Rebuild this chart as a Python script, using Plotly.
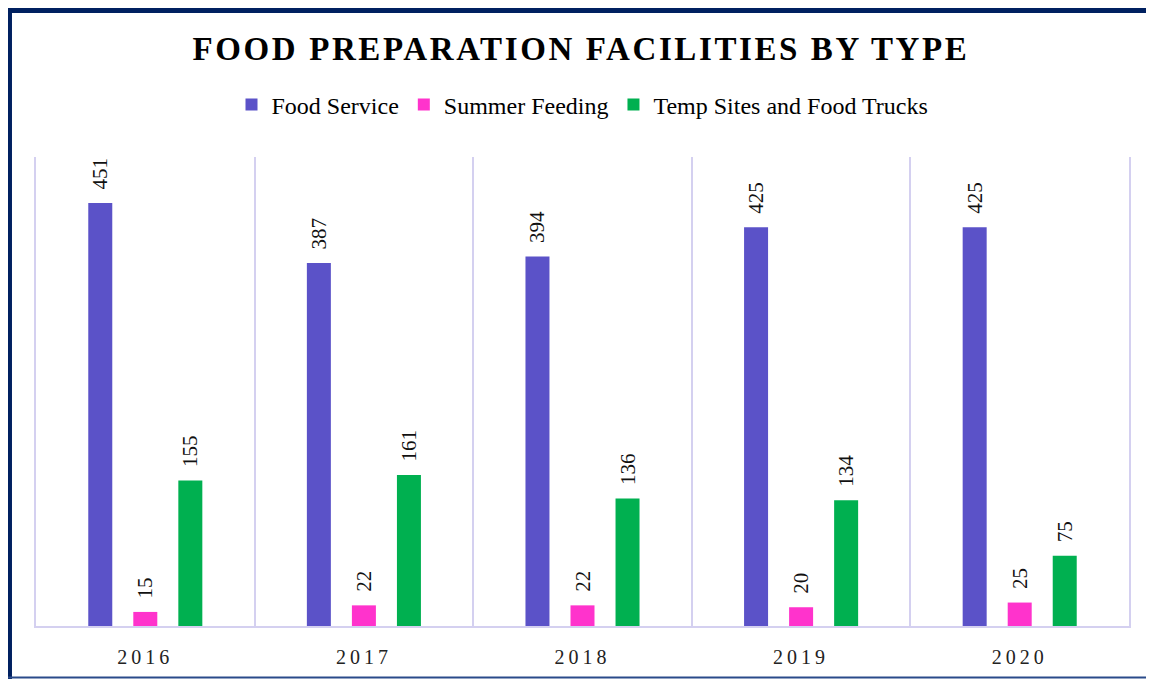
import plotly.graph_objects as go

years = ["2016", "2017", "2018", "2019", "2020"]
food_service = [451, 387, 394, 425, 425]
summer_feeding = [15, 22, 22, 20, 25]
temp_sites = [155, 161, 136, 134, 75]

series = [
    ("Food Service", food_service, "#5B52C8"),
    ("Summer Feeding", summer_feeding, "#FF33CC"),
    ("Temp Sites and Food Trucks", temp_sites, "#00B050"),
]

SERIF = "Liberation Serif, Times New Roman, serif"
GRID = "#D4D0F0"
NAVY = "#002060"

fig = go.Figure()
for name, vals, col in series:
    fig.add_trace(go.Bar(
        x=years, y=vals, name=name,
        marker=dict(color=col, line=dict(width=0)),
        text=vals, texttemplate="\u00a0\u00a0%{text}",
        textposition="outside", textangle=-90,
        constraintext="none", cliponaxis=False,
        textfont=dict(family=SERIF, size=21, color="#111111"),
    ))

# frame around the picture (top, left thick; bottom thin)
frame = [
    dict(x0=-0.03, x1=1.03, y0=1.3124, y1=1.3124, w=5, c=NAVY),
    dict(x0=-0.0238, x1=-0.0238, y0=1.32, y1=-0.12, w=4, c=NAVY),
    dict(x0=-0.03, x1=1.03, y0=-0.1098, y1=-0.1098, w=2, c="#2A4B8A"),
]
shapes = [dict(type="line", xref="paper", yref="paper",
               x0=f["x0"], x1=f["x1"], y0=f["y0"], y1=f["y1"],
               line=dict(color=f["c"], width=f["w"]), layer="above")
          for f in frame]

fig.update_layout(
    width=1154, height=679,
    margin=dict(l=28, r=33, t=149, b=61),
    paper_bgcolor="white", plot_bgcolor="white",
    barmode="group", bargap=0.382, bargroupgap=0.467,
    font=dict(family=SERIF, color="#000000"),
    title=dict(
        text='<b><span style="letter-spacing:2.6px">FOOD PREPARATION FACILITIES BY TYPE</span></b>',
        x=0.4965, xanchor="center", y=0.941, yanchor="middle",
        font=dict(family=SERIF, size=33, color="#000000"),
    ),
    legend=dict(
        orientation="h", x=0.50, xanchor="center", y=1.111, yanchor="middle",
        font=dict(family=SERIF, size=24, color="#000000"),
        itemsizing="constant", traceorder="normal",
    ),
    xaxis=dict(
        type="category", tickson="boundaries", showgrid=True,
        gridcolor=GRID, gridwidth=2, showline=True, linecolor=GRID,
        linewidth=2, ticks="", ticklabelstandoff=12,
        tickvals=years,
        ticktext=[f'<span style="letter-spacing:4px">{y}</span>' for y in years],
        tickfont=dict(family=SERIF, size=20, color="#222222"),
    ),
    yaxis=dict(
        range=[0, 500], showgrid=False, zeroline=False,
        showticklabels=False, showline=True, mirror=True,
        linecolor=GRID, linewidth=2, ticks="",
    ),
    shapes=shapes,
    showlegend=True,
)

fig.write_html("out.html")
